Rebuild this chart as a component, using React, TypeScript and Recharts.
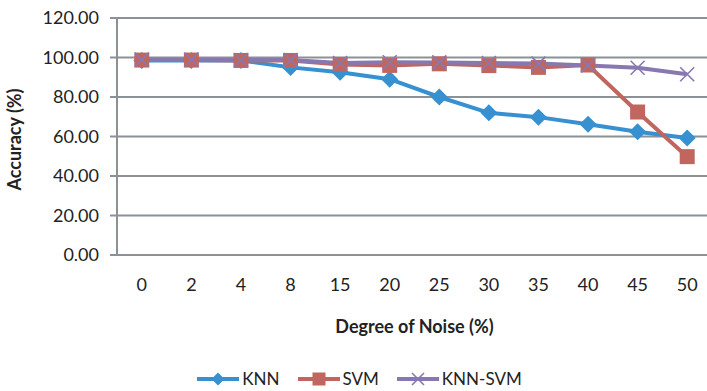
import { LineChart, Line, XAxis, YAxis, CartesianGrid, Legend } from "recharts";

const noiseLevels = ["0", "2", "4", "8", "15", "20", "25", "30", "35", "40", "45", "50"];
const knnAccuracy = [98.5, 98.5, 98.5, 95.0, 92.5, 89.0, 80.0, 72.0, 69.8, 66.2, 62.4, 59.2];
const svmAccuracy = [98.7, 98.7, 98.5, 98.5, 96.5, 96.0, 96.8, 95.9, 95.0, 96.2, 72.4, 49.8];
const knnSvmAccuracy = [98.9, 98.9, 98.7, 98.7, 97.2, 97.6, 97.5, 97.2, 96.9, 96.0, 94.8, 91.5];
const yTicks = [0, 20, 40, 60, 80, 100, 120];

const chartData = noiseLevels.map((noise, i) => ({
    noise,
    knn: knnAccuracy[i],
    svm: svmAccuracy[i],
    knnSvm: knnSvmAccuracy[i],
}));

const BLUE = "#3790CF";
const RED = "#C0665F";
const PURPLE = "#8878B2";
const GRID = "#8C9196";
const FONT = "Lato, 'Open Sans', sans-serif";

const Diamond = (props: any) => {
    const { cx, cy, color = BLUE, size = 8.5 } = props;
    if (cx == null || cy == null) return null;
    const r = size;
    return <path d={`M${cx},${cy - r} L${cx + r},${cy} L${cx},${cy + r} L${cx - r},${cy} Z`} fill={color} />;
};

const Square = (props: any) => {
    const { cx, cy, color = RED, size = 7.5 } = props;
    if (cx == null || cy == null) return null;
    const r = size;
    return <rect x={cx - r} y={cy - r} width={r * 2} height={r * 2} fill={color} />;
};

const Cross = (props: any) => {
    const { cx, cy, color = PURPLE, size = 7 } = props;
    if (cx == null || cy == null) return null;
    const r = size;
    return (
        <path
            d={`M${cx - r},${cy - r} L${cx + r},${cy + r} M${cx - r},${cy + r} L${cx + r},${cy - r}`}
            stroke={color}
            strokeWidth={1.6}
            fill="none"
        />
    );
};

const legendItems = [
    { name: "KNN", color: BLUE, marker: Diamond, size: 6.5 },
    { name: "SVM", color: RED, marker: Square, size: 6.5 },
    { name: "KNN-SVM", color: PURPLE, marker: Cross, size: 6 },
];

function ChartLegend() {
    return (
        <div style={{ display: "flex", justifyContent: "center", fontFamily: FONT, fontSize: 17, color: "#222", paddingLeft: 30 }}>
            {legendItems.map((item) => {
                const M = item.marker;
                return (
                    <div key={item.name} style={{ display: "flex", alignItems: "center", marginRight: 18 }}>
                        <svg width={42} height={20}>
                            <line x1={0} y1={10} x2={42} y2={10} stroke={item.color} strokeWidth={4} />
                            <M cx={21} cy={10} color={item.color} size={item.size} />
                        </svg>
                        <span style={{ marginLeft: 3 }}>{item.name}</span>
                    </div>
                );
            })}
        </div>
    );
}

const YTitle = (props: any) => {
    const { viewBox } = props;
    const x = viewBox.x + 16;
    const y = viewBox.y + viewBox.height / 2 + 3;
    return (
        <text x={x} y={y} transform={`rotate(-90, ${x}, ${y})`} textAnchor="middle" dominantBaseline="middle"
            fontFamily={FONT} fontSize={18} fontWeight={700} fill="#222">
            Accuracy (%)
        </text>
    );
};

export default function App() {
    return (
        <div style={{ position: "absolute", left: 0, top: 0, width: 707, height: 391, overflow: "hidden", background: "#fff" }}>
            <LineChart
                width={712}
                height={391}
                data={chartData}
                margin={{ top: 18, right: 0, left: 0, bottom: 0 }}
            >
                <CartesianGrid vertical={false} stroke={GRID} strokeWidth={2} />
                <XAxis
                    dataKey="noise"
                    type="category"
                    height={136}
                    padding={{ left: 24.8, right: 24.8 }}
                    axisLine={{ stroke: GRID, strokeWidth: 2 }}
                    tickLine={false}
                    tickMargin={17}
                    tick={{ fontFamily: FONT, fontSize: 18, fill: "#222" }}
                    label={{ value: "Degree of Noise (%)", position: "insideTop", offset: 65, fontFamily: FONT, fontSize: 18, fontWeight: 700, fill: "#222" }}
                />
                <YAxis
                    width={117}
                    domain={[0, 120]}
                    ticks={yTicks}
                    interval={0}
                    tickFormatter={(v: number) => v.toFixed(2)}
                    axisLine={{ stroke: GRID, strokeWidth: 2 }}
                    tickLine={{ stroke: GRID, strokeWidth: 2 }}
                    tickSize={7}
                    tickMargin={11}
                    tick={{ fontFamily: FONT, fontSize: 18, fill: "#222" }}
                    label={<YTitle />}
                />
                <Legend
                    layout="horizontal"
                    verticalAlign="middle"
                    align="center"
                    wrapperStyle={{ top: 368, left: 0, width: 707 }}
                    content={() => <ChartLegend />}
                />
                <Line
                    name="KNN"
                    dataKey="knn"
                    type="linear"
                    stroke={BLUE}
                    strokeWidth={4}
                    dot={<Diamond color={BLUE} />}
                    activeDot={false}
                    isAnimationActive={false}
                />
                <Line
                    name="SVM"
                    dataKey="svm"
                    type="linear"
                    stroke={RED}
                    strokeWidth={4}
                    dot={<Square color={RED} />}
                    activeDot={false}
                    isAnimationActive={false}
                />
                <Line
                    name="KNN-SVM"
                    dataKey="knnSvm"
                    type="linear"
                    stroke={PURPLE}
                    strokeWidth={4}
                    dot={<Cross color={PURPLE} />}
                    activeDot={false}
                    isAnimationActive={false}
                />
            </LineChart>
        </div>
    );
}
